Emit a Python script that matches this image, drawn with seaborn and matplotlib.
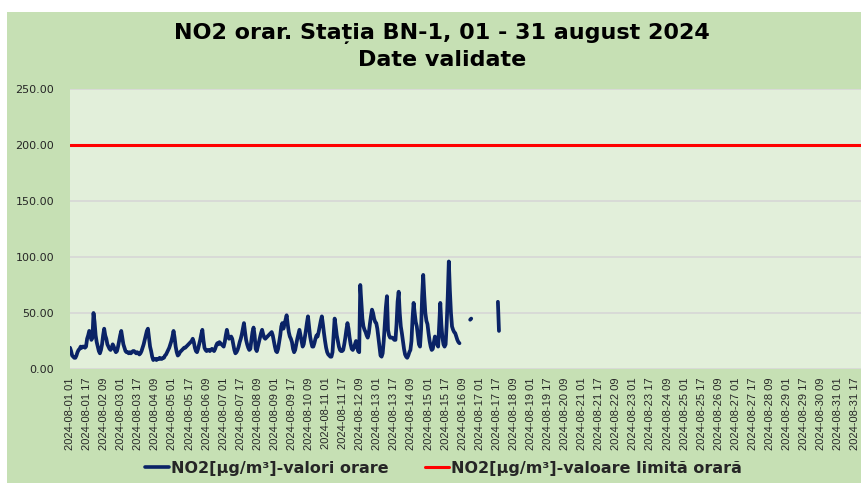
import matplotlib
matplotlib.use("Agg")
import matplotlib.pyplot as plt
import numpy as np
import pandas as pd
import seaborn as sns
from matplotlib.lines import Line2D
from matplotlib.patches import Rectangle

# hourly NO2 values, 2024-08-01 01:00 onwards (µg/m³)
no2_main = [
    19, 16, 12, 11, 10, 10, 12, 15, 17, 18, 20, 19, 20, 20, 19, 20, 27, 30, 34, 33, 26, 28, 50, 42,
    30, 24, 20, 16, 14, 17, 22, 30, 36, 30, 27, 22, 20, 18, 17, 19, 22, 20, 17, 15, 16, 20, 25, 30,
    34, 28, 22, 19, 16, 15, 15, 14, 15, 14, 15, 16, 16, 15, 14, 15, 14, 13, 14, 16, 19, 22, 26, 30,
    34, 36, 28, 20, 16, 11, 8, 9, 9, 8, 9, 9, 10, 9, 9, 10, 10, 12, 13, 15, 17, 19, 22, 25,
    29, 34, 28, 20, 15, 12, 13, 15, 16, 17, 18, 19, 19, 20, 21, 22, 23, 24, 25, 27, 24, 19, 16, 15,
    18, 22, 26, 31, 35, 26, 19, 17, 16, 17, 17, 16, 17, 18, 17, 16, 18, 21, 23, 22, 24, 23, 22, 21,
    20, 24, 30, 35, 30, 27, 28, 29, 27, 22, 17, 14, 15, 17, 20, 24, 27, 31, 36, 41, 33, 26, 22, 19,
    17, 18, 26, 33, 37, 30, 18, 16, 20, 24, 28, 32, 35, 31, 28, 27, 28, 29, 30, 31, 32, 33, 30, 25,
    20, 16, 15, 18, 24, 30, 38, 41, 36, 40, 44, 48, 40, 33, 29, 27, 24, 18, 15, 17, 22, 27, 31, 35,
    30, 25, 20, 22, 28, 34, 41, 47, 38, 29, 24, 20, 20, 23, 27, 30, 29, 33, 38, 43, 47, 40, 32, 25,
    19, 15, 13, 12, 11, 11, 15, 30, 45, 38, 30, 25, 20, 17, 16, 16, 17, 22, 28, 35, 41, 36, 28, 22,
    18, 17, 19, 22, 25, 20, 16, 15, 75, 60, 45, 38, 35, 33, 30, 28, 32, 40, 47, 53, 50, 45, 42, 41,
    36, 28, 20, 12, 11, 14, 25, 40, 55, 65, 35, 30, 28, 28, 28, 27, 26, 26, 40, 60, 69, 50, 38, 32,
    25, 18, 13, 11, 10, 12, 15, 17, 25, 45, 59, 50, 42, 38, 30, 22, 20, 35, 65, 84, 65, 50, 43, 40,
    32, 25, 20, 17, 18, 24, 29, 27, 22, 20, 40, 59, 40, 28, 22, 20, 22, 40, 65, 96, 70, 50, 38, 35,
    33, 32, 29, 26, 24, 23,
]
no2_pair_16 = [44, 45]  # isolated values on 16 Aug
no2_pair_17 = [60, 34]  # isolated values on 17 Aug
limit_value = 200.0

n_hours = 744
gap = np.nan
no2_hourly = (no2_main + [gap] * 9 + no2_pair_16 + [gap] * 24 + no2_pair_17)
no2_hourly = no2_hourly + [gap] * (n_hours - len(no2_hourly))

stamps = pd.date_range("2024-08-01 01:00", periods=n_hours, freq="h")
tick_idx = list(range(0, 737, 16))
tick_labels = [stamps[i].strftime("%Y-%m-%d %H") for i in tick_idx]
y_ticks = [0, 50, 100, 150, 200, 250]

OUTER = "#c6e0b4"
INNER = "#e2efda"
BLUE = "#0a2366"
RED = "#ff0000"
TXT = "#262626"

sns.set_theme(style="white")
plt.rcParams["font.family"] = ["DejaVu Sans"]

df = pd.DataFrame({"hour": np.arange(n_hours), "no2": no2_hourly, "limit": limit_value})
df["seg"] = df["no2"].isna().cumsum()
dfv = df.dropna(subset=["no2"])

W, H = 861, 483
fig = plt.figure(figsize=(W / 100, H / 100), dpi=100, facecolor="white")
fig.patches.append(Rectangle((7 / W, 0), 1 - 7 / W, (H - 11.5) / H, transform=fig.transFigure,
                             facecolor=OUTER, edgecolor="none", zorder=-10))
ax = fig.add_axes([69.5 / W, (H - 369) / H, (W - 69.5) / W, 280 / H])
ax.set_facecolor(INNER)

sns.lineplot(data=df, x="hour", y="limit", color=RED, lw=2.2, ax=ax, zorder=3)
sns.lineplot(data=dfv, x="hour", y="no2", units="seg", estimator=None, color=BLUE,
             lw=2.7, ax=ax, zorder=4)

ax.set_xlim(-0.5, 741.3)
ax.set_ylim(0, 250)
ax.set_yticks(y_ticks)
ax.set_yticklabels([f"{v:.2f}" for v in y_ticks], fontsize=8, color=TXT)
ax.set_xticks(tick_idx)
ax.set_xticklabels(tick_labels, rotation=90, fontsize=8, color=TXT,
                   family=["Liberation Sans", "DejaVu Sans"])
ax.tick_params(length=0)
ax.tick_params(axis="y", pad=11)
ax.tick_params(axis="x", pad=6)
ax.grid(axis="y", color="#d6d6d6", lw=1.2)
ax.set_axisbelow(True)
for s in ax.spines.values():
    s.set_visible(False)
ax.set_xlabel("")
ax.set_ylabel("")

fig.text(0.513, 1 - 34 / H, "NO2 orar. Stația BN-1, 01 - 31 august 2024", ha="center",
         va="center", fontsize=16, fontweight="bold", color="black")
fig.text(0.513, 1 - 60 / H, "Date validate", ha="center", va="center", fontsize=16,
         fontweight="bold", color="black")

handles = [Line2D([], [], color=BLUE, lw=2.6), Line2D([], [], color=RED, lw=2.2)]
labels = ["NO2[µg/m³]-valori orare", "NO2[µg/m³]-valoare limită orară"]
fig.legend(handles, labels, loc="center", bbox_to_anchor=(0.515, 15 / H), ncol=2,
           frameon=False, handlelength=1.5, handletextpad=0.1, columnspacing=2.3,
           prop={"size": 11.5, "weight": "bold"})

fig.savefig("out.png", dpi=100)
